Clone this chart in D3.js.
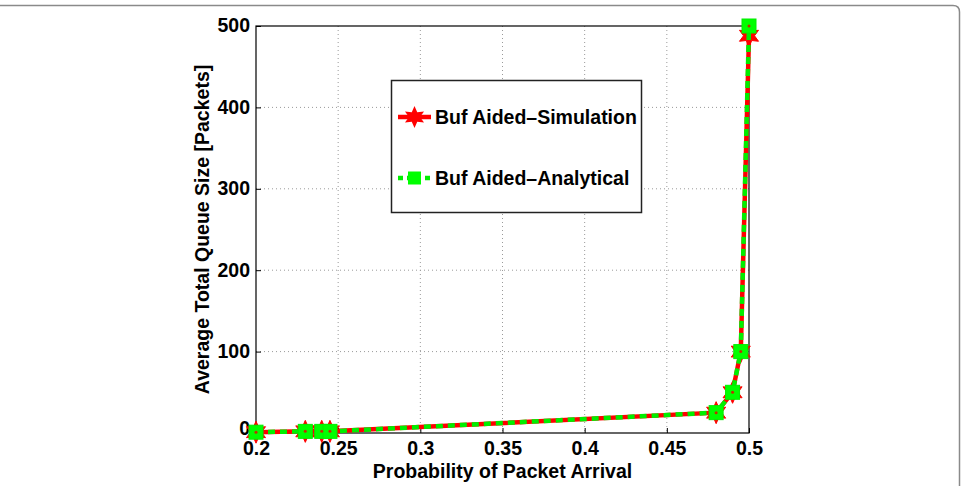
<!DOCTYPE html>
<html>
<head>
<meta charset="utf-8">
<script src="https://cdn.jsdelivr.net/npm/d3@7"></script>
<style>
  body { margin: 0; background: #fff; }
  svg text { font-family: "Liberation Sans", Arial, sans-serif; font-weight: bold; }
</style>
</head>
<body>
<div id="chart"></div>
<script>
// data
const arrival = [0.2, 0.23, 0.24, 0.245, 0.48, 0.49, 0.495, 0.5];
const simulation = [1, 2, 2, 2, 25, 50, 100, 488];
const analytical = [1, 2, 2, 2, 25, 50, 100, 500];
const xTicks = [0.2, 0.25, 0.3, 0.35, 0.4, 0.45, 0.5];
const yTicks = [0, 100, 200, 300, 400, 500];
const seriesNames = ['Buf Aided\u2013Simulation', 'Buf Aided\u2013Analytical'];

const width = 964;
const height = 486;
const area = { left: 256, right: 749, top: 26, bottom: 433 };
const fontSize = 19.5;

const svg = d3.select('#chart').append('svg').attr('width', width).attr('height', height);

// outer frame (rounded at top right)
svg.append('path')
  .attr('d', `M0,5.5 H953 Q959.5,5.5 959.5,12 V${height}`)
  .attr('fill', 'none').attr('stroke', '#8a8a8a').attr('stroke-width', 1.5);

const xScale = d3.scaleLinear().domain([0.2, 0.5]).range([area.left, area.right]);
const yScale = d3.scaleLinear().domain([0, 500]).range([area.bottom, area.top]);

// gridlines
const grid = svg.append('g').attr('stroke', '#9a9a9a').attr('stroke-width', 1).attr('stroke-dasharray', '1,3');
grid.selectAll('.gx').data(xTicks.slice(1, -1)).join('line')
  .attr('x1', d => xScale(d)).attr('x2', d => xScale(d))
  .attr('y1', area.top).attr('y2', area.bottom);
grid.selectAll('.gy').data(yTicks.slice(1, -1)).join('line')
  .attr('y1', d => yScale(d)).attr('y2', d => yScale(d))
  .attr('x1', area.left).attr('x2', area.right);

// axes box
svg.append('rect')
  .attr('x', area.left).attr('y', area.top)
  .attr('width', area.right - area.left).attr('height', area.bottom - area.top)
  .attr('fill', 'none').attr('stroke', '#000').attr('stroke-width', 1.2);

const xAxis = d3.axisBottom(xScale).tickValues(xTicks).tickSize(-5).tickPadding(10).tickFormat(d3.format('~g'));
const yAxis = d3.axisLeft(yScale).tickValues(yTicks).tickSize(-5).tickPadding(6);

const gx = svg.append('g').attr('transform', `translate(0,${area.bottom})`).call(xAxis);
const gy = svg.append('g').attr('transform', `translate(${area.left},0)`).call(yAxis);
[gx, gy].forEach(g => {
  g.select('.domain').remove();
  g.selectAll('text').attr('font-size', fontSize).attr('fill', '#000')
    .style('font-family', '"Liberation Sans", Arial, sans-serif').style('font-weight', 'bold');
  g.selectAll('line').attr('stroke', '#000');
});
gx.selectAll('text').attr('dy', '0.6em');
gy.selectAll('text').attr('dy', d => d === 0 ? '0.08em' : '0.3em');

svg.append('text').attr('x', (area.left + area.right) / 2).attr('y', 478)
  .attr('text-anchor', 'middle').attr('font-size', fontSize).text('Probability of Packet Arrival');
svg.append('text')
  .attr('transform', `translate(209,${(area.top + area.bottom) / 2}) rotate(-90)`)
  .attr('text-anchor', 'middle').attr('font-size', fontSize).text('Average Total Queue Size [Packets]');

// marker shapes
function hexagram(r) {
  const pts = [];
  for (let i = 0; i < 12; i++) {
    const a = -Math.PI / 2 + i * Math.PI / 6;
    const rr = i % 2 === 0 ? r : r * 0.5;
    pts.push([rr * Math.cos(a), rr * Math.sin(a)]);
  }
  return 'M' + pts.map(p => p.join(',')).join('L') + 'Z';
}

const simData = arrival.map((x, i) => ({ x, y: simulation[i] }));
const anaData = arrival.map((x, i) => ({ x, y: analytical[i] }));
const line = d3.line().x(d => xScale(d.x)).y(d => yScale(d.y));

// simulation: red solid line with hexagram markers
svg.append('path').datum(simData).attr('d', line)
  .attr('fill', 'none').attr('stroke', '#ff0000').attr('stroke-width', 4.5);
svg.append('g').selectAll('path').data(simData).join('path')
  .attr('transform', d => `translate(${xScale(d.x)},${yScale(d.y)})`)
  .attr('d', hexagram(11)).attr('fill', '#ff0000').attr('stroke', '#ff0000').attr('stroke-width', 1);

// analytical: green dashed line with square markers
svg.append('path').datum(anaData).attr('d', line)
  .attr('fill', 'none').attr('stroke', '#00ee00').attr('stroke-width', 4.5).attr('stroke-dasharray', '7,5');
svg.append('g').selectAll('rect').data(anaData).join('rect')
  .attr('x', d => xScale(d.x) - 7).attr('y', d => yScale(d.y) - 7)
  .attr('width', 14).attr('height', 14).attr('fill', '#00ff00').attr('stroke', '#00ee00');
svg.append('g').selectAll('circle').data(anaData).join('circle')
  .attr('cx', d => xScale(d.x)).attr('cy', d => yScale(d.y)).attr('r', 1.5).attr('fill', '#c03000');

// legend
const legend = svg.append('g');
legend.append('rect').attr('x', 391.5).attr('y', 80.5).attr('width', 250).attr('height', 132)
  .attr('fill', '#fff').attr('stroke', '#222').attr('stroke-width', 1.5);
const rows = [117, 178];
legend.append('line').attr('x1', 398).attr('x2', 431).attr('y1', rows[0]).attr('y2', rows[0])
  .attr('stroke', '#ff0000').attr('stroke-width', 4.5);
legend.append('path').attr('transform', `translate(414.5,${rows[0]})`).attr('d', hexagram(11)).attr('fill', '#ff0000');
legend.append('line').attr('x1', 398).attr('x2', 431).attr('y1', rows[1]).attr('y2', rows[1])
  .attr('stroke', '#00ee00').attr('stroke-width', 4.5).attr('stroke-dasharray', '5,4');
legend.append('rect').attr('x', 408).attr('y', rows[1] - 6.5).attr('width', 13).attr('height', 13).attr('fill', '#00ff00');
legend.selectAll('text.lbl').data(seriesNames).join('text')
  .attr('x', 435).attr('y', (d, i) => rows[i]).attr('dy', '0.36em')
  .attr('font-size', fontSize).text(d => d);
</script>
</body>
</html>
